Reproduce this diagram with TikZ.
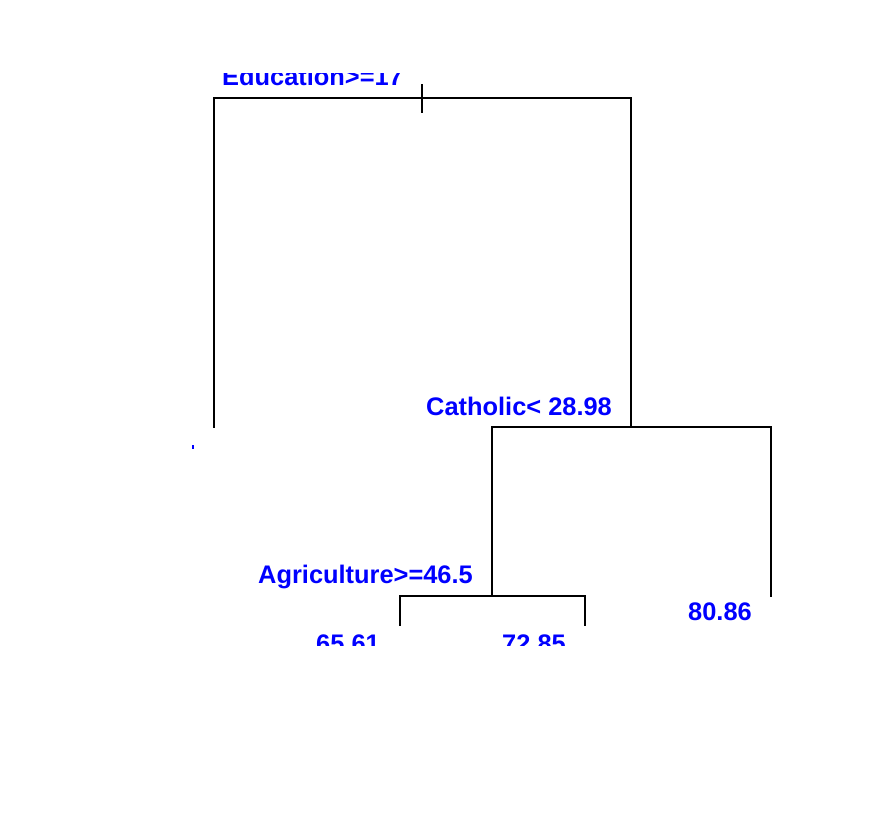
\documentclass[tikz,border=0pt]{standalone}
\usepackage{fontspec}
\setmainfont{Liberation Sans}
\usetikzlibrary{positioning}
\definecolor{splitblue}{RGB}{0,0,255}
\tikzset{
  every picture/.style={x=1pt, y=-1pt},
  branch/.style={draw=black, line width=1.5pt, line cap=rect},
  lbl/.style={text=splitblue, font=\fontsize{25.4}{30}\selectfont\bfseries, inner sep=0pt, anchor=base west},
}

\begin{document}
\begin{tikzpicture}
  \useasboundingbox (0,0) rectangle (870,838);
  % split points and leaf ends
  \coordinate (n1) at (422,98);
  \coordinate (n2) at (631,427);
  \coordinate (n3) at (492,596);
  \coordinate (l1) at (214,427);
  \coordinate (l2) at (771,596);
  \coordinate (l3) at (400,625);
  \coordinate (l4) at (585,625);
  % branches
  \draw[branch] (l1) |- (n1) -| (n2);
  \draw[branch] (n3) |- (n2) -| (l2);
  \draw[branch] (l3) |- (n3) -| (l4);
  \draw[branch, line cap=butt] (n1) ++(0,-14) -- ++(0,29);
  % labels, cut by the plot region
  \begin{scope}
    \clip (192,73) rectangle (870,645);
    \node[lbl] (edu) at (222,85) {Education>=17};
    \node[lbl] (cath) at (426,415) {Catholic< 28.98};
    \node[lbl] (agri) at (258,583) {Agriculture>=46.5};
    \node[lbl] (v1) at (316,652) {65.61};
    \node[lbl] (v2) at (502,652) {72.85};
    \node[lbl] (v3) at (688,620) {80.86};
    \fill[splitblue] (192,445) rectangle (194,449);
  \end{scope}
\end{tikzpicture}
\end{document}
